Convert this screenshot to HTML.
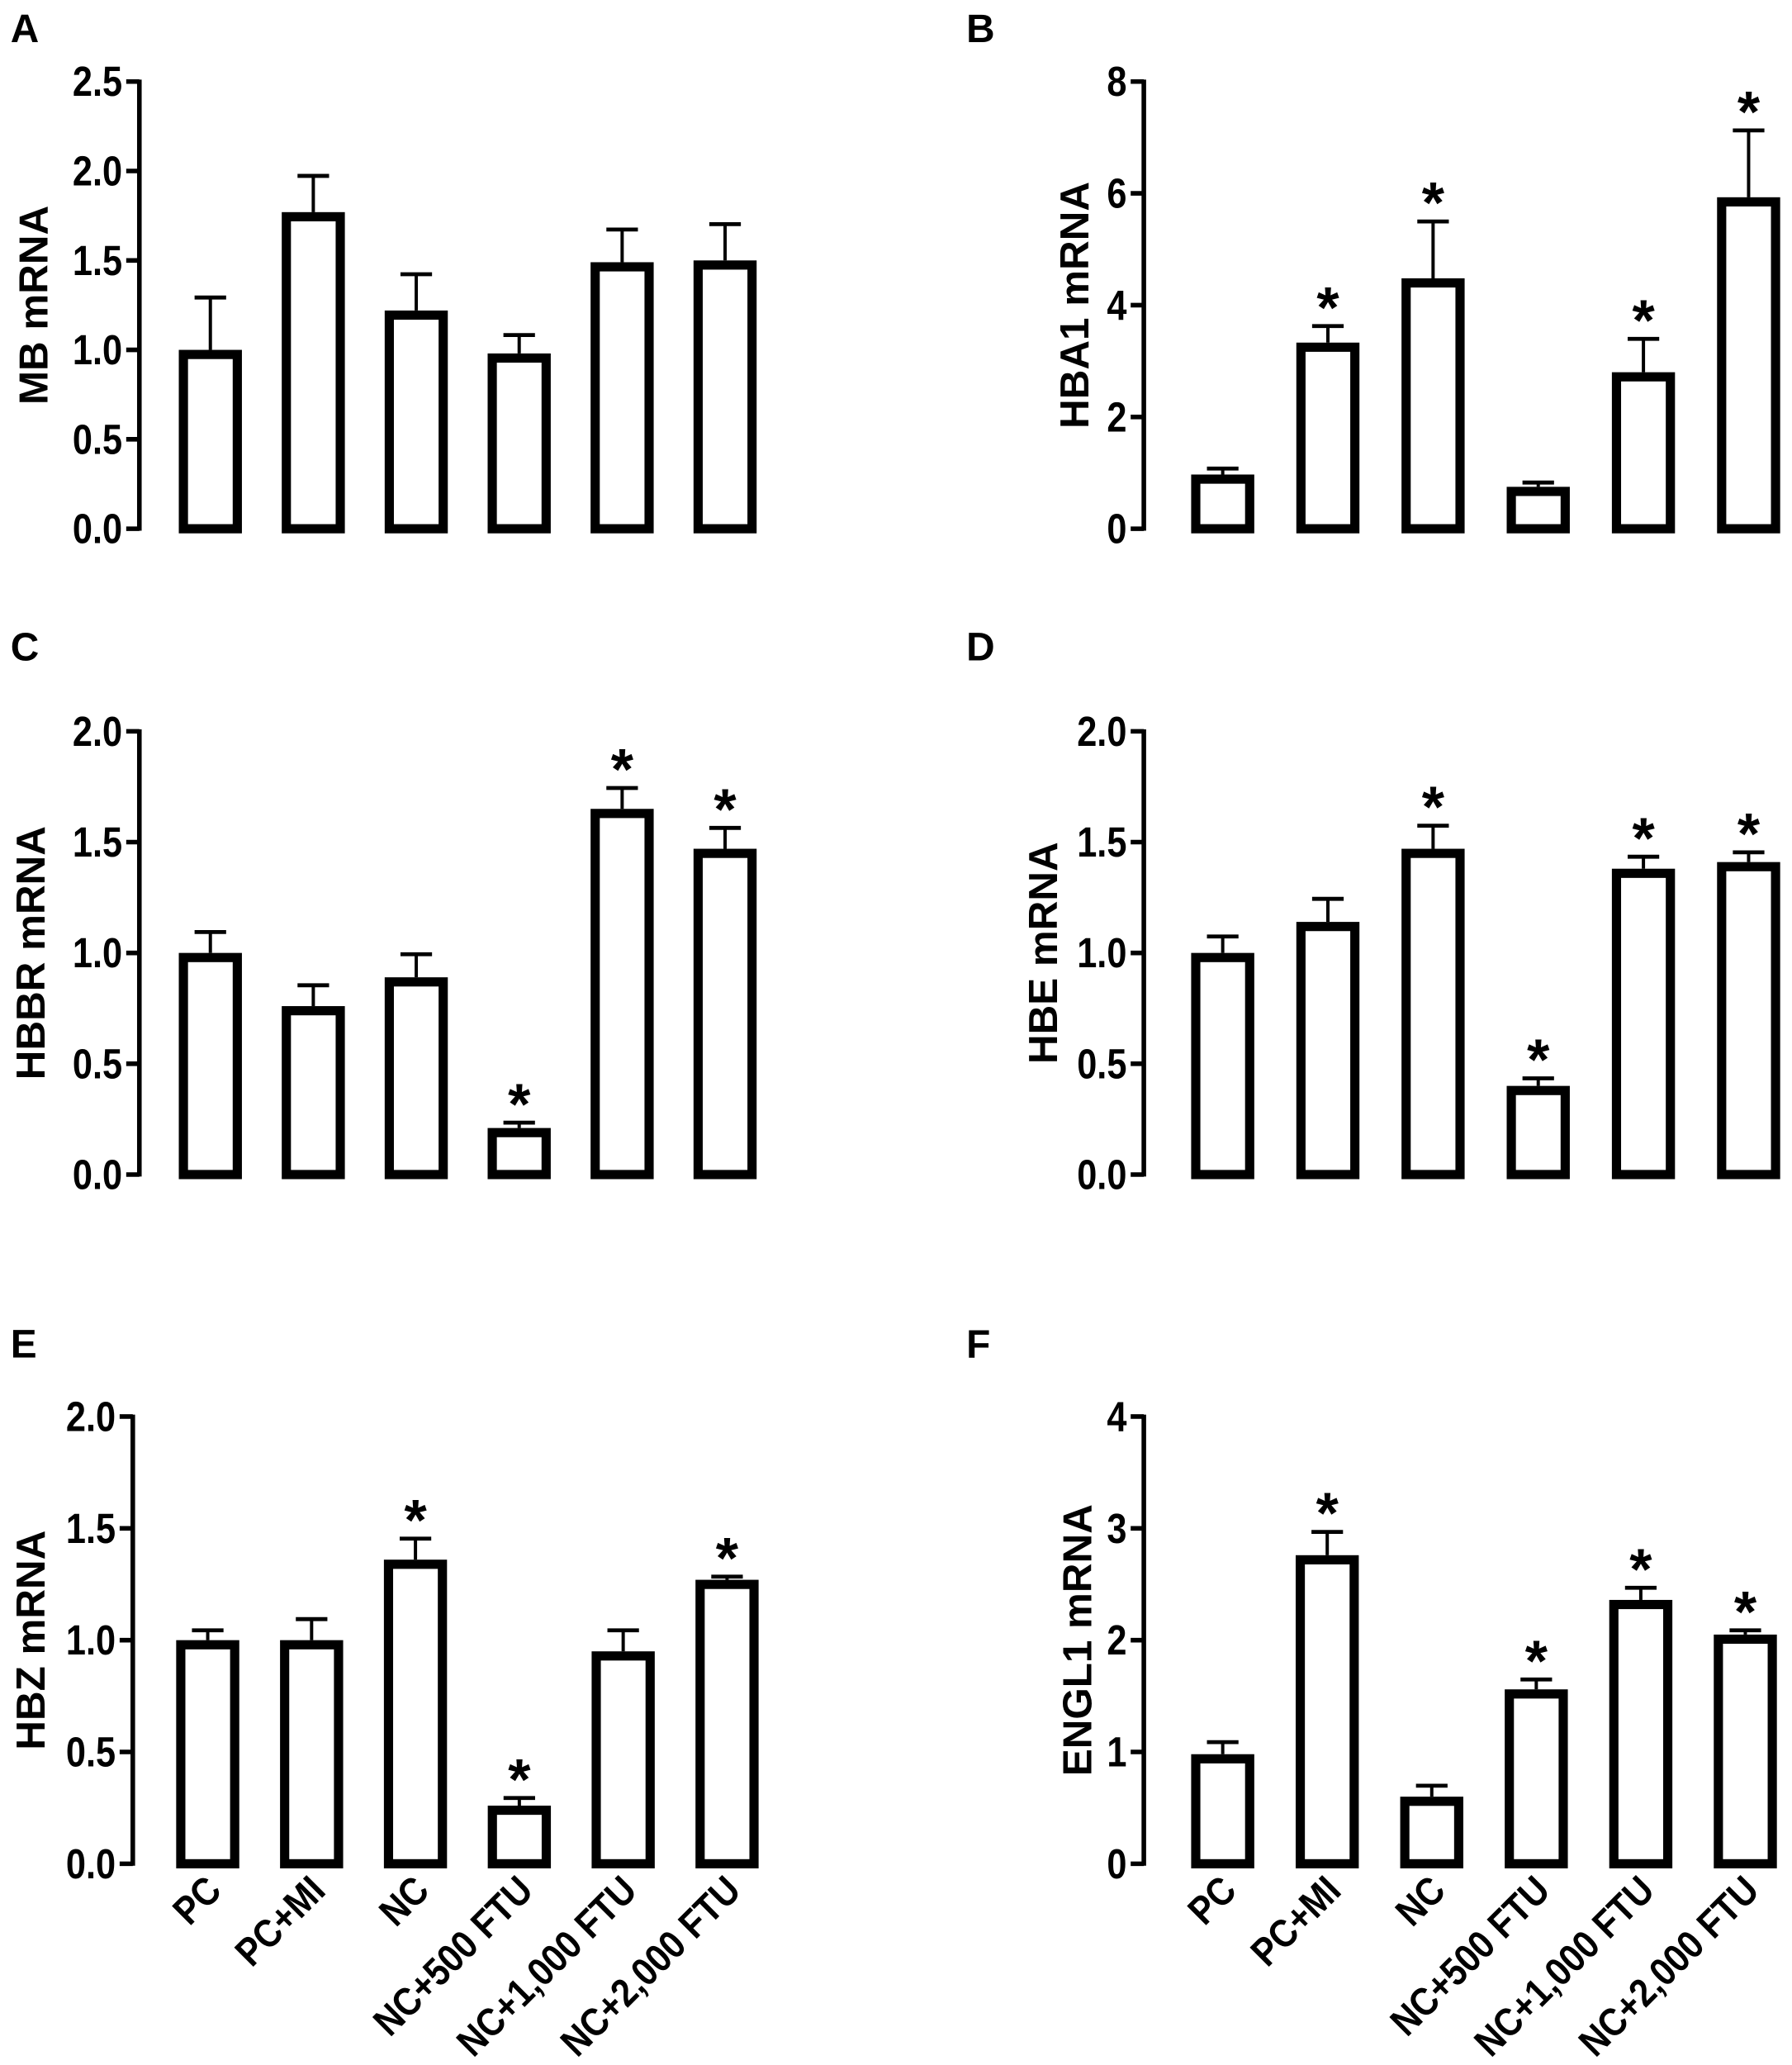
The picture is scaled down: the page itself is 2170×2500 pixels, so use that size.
<!DOCTYPE html>
<html><head><meta charset="utf-8"><style>
html,body{margin:0;padding:0;background:#fff;}
svg{display:block;}
text{font-family:"Liberation Sans",sans-serif;font-weight:bold;fill:#000;}
</style></head><body>
<svg id="fig" width="2170" height="2500" viewBox="0 0 1363 1570" preserveAspectRatio="none" xmlns="http://www.w3.org/2000/svg"></svg>
<script>
const categories = ["PC","PC+MI","NC","NC+500 FTU","NC+1,000 FTU","NC+2,000 FTU"];
const mbValues = [1.0,1.77,1.22,0.98,1.49,1.50];
const mbErrors = [1.30,1.98,1.43,1.09,1.68,1.71];
const mbStars = [0,0,0,0,0,0];
const hba1Values = [0.97,3.33,4.48,0.75,2.80,5.93];
const hba1Errors = [1.10,3.65,5.52,0.85,3.42,7.15];
const hba1Stars = [0,1,1,0,1,1];
const hbbrValues = [1.0,0.76,0.89,0.21,1.65,1.47];
const hbbrErrors = [1.10,0.86,1.00,0.24,1.75,1.57];
const hbbrStars = [0,0,0,1,1,1];
const hbeValues = [1.0,1.14,1.47,0.40,1.38,1.41];
const hbeErrors = [1.08,1.25,1.58,0.44,1.44,1.46];
const hbeStars = [0,0,1,1,1,1];
const hbzValues = [1.0,1.0,1.36,0.26,0.95,1.27];
const hbzErrors = [1.05,1.10,1.46,0.30,1.05,1.29];
const hbzStars = [0,0,1,1,0,1];
const englValues = [0.98,2.76,0.60,1.56,2.36,2.05];
const englErrors = [1.10,2.98,0.71,1.66,2.48,2.10];
const englStars = [0,1,0,1,1,1];
const tick25 = ["0.0","0.5","1.0","1.5","2.0","2.5"];
const tick8 = ["0","2","4","6","8"];
const tick2 = ["0.0","0.5","1.0","1.5","2.0"];
const tick4 = ["0","1","2","3","4"];

const NS="http://www.w3.org/2000/svg";
const svg=document.getElementById('fig');
function mk(tag,attrs,parent){const e=document.createElementNS(NS,tag);for(const k in attrs)e.setAttribute(k,attrs[k]);(parent||svg).appendChild(e);return e;}

function panel(p){
  const g=mk('g',{});
  
  
  const ticks=p.ticks, max=parseFloat(ticks[ticks.length-1]);
  const y=v=>p.y0-(v/max)*(p.y0-p.yTop);
  const x=i=>p.x0+i*p.step;
  const lt=mk('text',{x:p.lx,y:p.ly,'font-size':30},g);lt.textContent=p.letter;
  
  
  const ax=mk('line',{x1:p.ax,x2:p.ax,y1:p.yTop-1.5,y2:p.y0+1.5,stroke:'#000','stroke-width':3.5},g);
  
  
  ticks.forEach(t=>{
    const v=parseFloat(t);
    mk('line',{x1:p.ax-10,x2:p.ax,y1:y(v),y2:y(v),stroke:'#000','stroke-width':3.5},g);
    const tl=mk('text',{x:0,y:0,'font-size':32,'text-anchor':'end',transform:`translate(${p.ax-13},${y(v)+11}) scale(0.85,1)`},g);
    tl.textContent=t;
    
    
  });
  const ttl=mk('text',{x:0,y:0,'font-size':31,'text-anchor':'middle',transform:`translate(${p.tx},${(p.y0+p.yTop)/2}) rotate(-90)`},g);
  ttl.textContent=p.title;
  
  
  const bw=48;
  p.vals.forEach((v,i)=>{
    const cx=x(i);
    const el=mk('line',{x1:cx,x2:cx,y1:y(v),y2:y(p.errs[i]),stroke:'#000','stroke-width':2.5},g);
    
    
    const cap=mk('line',{x1:cx-12,x2:cx+12,y1:y(p.errs[i])+1,y2:y(p.errs[i])+1,stroke:'#000','stroke-width':3},g);
    
    
    const r=mk('rect',{x:cx-bw/2+3.5,y:y(v)+3.5,width:bw-7,height:Math.max(0,y(0)-y(v)-3.5),fill:'#fff',stroke:'#000','stroke-width':7},g);
    
    
    if(p.stars[i]){
      const s=mk('text',{x:cx,y:y(p.errs[i])+2,'font-size':44,'text-anchor':'middle'},g);
      s.textContent='*';
      
      
    }
    if(p.xlabels){
      const xl=mk('text',{x:0,y:0,'font-size':30,'text-anchor':'end',transform:`translate(${cx+12},${p.y0+22}) rotate(-45) scale(0.88,1)`},g);
      xl.textContent=categories[i];
      
      
    }
  });
}
panel({letter:'A',lx:8,ly:32,ax:106,yTop:62,y0:402,x0:160,step:78.3,ticks:tick25,vals:mbValues,errs:mbErrors,stars:mbStars,title:'MB mRNA',tx:36});
panel({letter:'B',lx:735,ly:32,ax:870,yTop:62,y0:402,x0:930,step:80,ticks:tick8,vals:hba1Values,errs:hba1Errors,stars:hba1Stars,title:'HBA1 mRNA',tx:828});
panel({letter:'C',lx:8,ly:502,ax:106,yTop:556,y0:893,x0:160,step:78.3,ticks:tick2,vals:hbbrValues,errs:hbbrErrors,stars:hbbrStars,title:'HBBR mRNA',tx:34});
panel({letter:'D',lx:735,ly:502,ax:870,yTop:556,y0:893,x0:930,step:80,ticks:tick2,vals:hbeValues,errs:hbeErrors,stars:hbeStars,title:'HBE mRNA',tx:804});
panel({letter:'E',lx:8,ly:1032,ax:101,yTop:1077,y0:1417,x0:158,step:79,ticks:tick2,vals:hbzValues,errs:hbzErrors,stars:hbzStars,title:'HBZ mRNA',tx:34,xlabels:true});
panel({letter:'F',lx:735,ly:1032,ax:870,yTop:1077,y0:1417,x0:930,step:79.5,ticks:tick4,vals:englValues,errs:englErrors,stars:englStars,title:'ENGL1 mRNA',tx:830,xlabels:true});
</script>
</body></html>
